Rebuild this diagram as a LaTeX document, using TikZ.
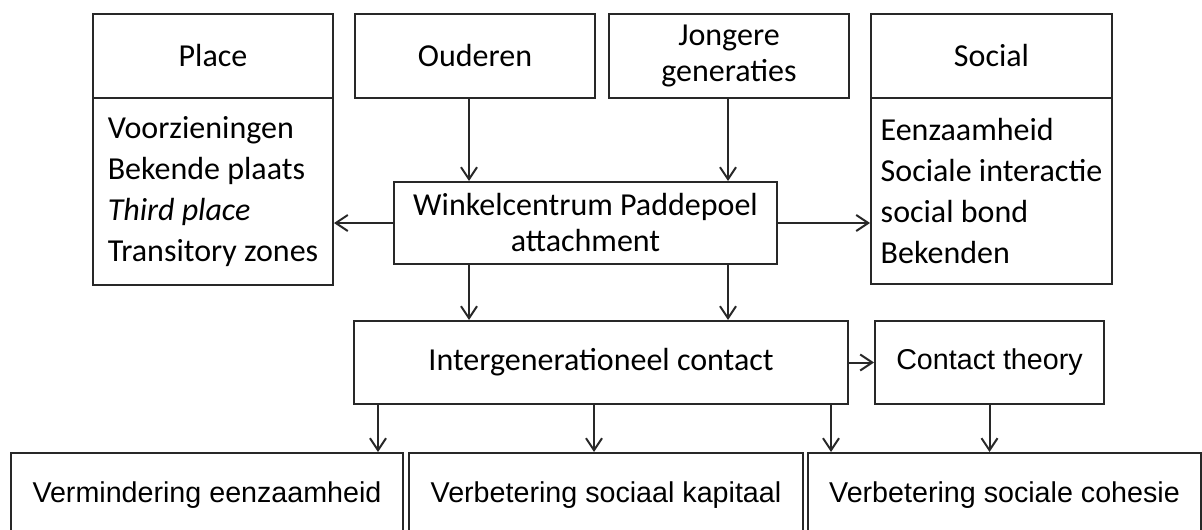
\documentclass[tikz,border=0pt]{standalone}
\usepackage{fontspec}
\setmainfont{Carlito}
\newfontfamily\arialfont{Liberation Sans}
\usetikzlibrary{arrows.meta, calc, positioning}
\definecolor{boxline}{RGB}{40, 40, 40}

\begin{document}
\begin{tikzpicture}[x=0.75pt, y=-0.75pt,
		box/.style={draw=boxline, line width=1.5pt, inner sep=2pt, align=center,
			font=\fontsize{24}{27}\selectfont},
		listbox/.style={box, align=left, font=\fontsize{24}{30.75}\selectfont},
		resbox/.style={box, minimum height=63pt, font=\arialfont\fontsize{21.5}{24}\selectfont},
		arr/.style={-{Straight Barb[length=9pt, width=12pt]}, boxline, line width=1.5pt}]
	
	\clip (0,0) rectangle (1202,529);
	
	%--- columns of the arrows ---
	\coordinate (lcol) at (469,0);
	\coordinate (rcol) at (728,0);
	\coordinate (c1) at (378,0);
	\coordinate (c2) at (594,0);
	\coordinate (c3) at (831,0);
	
	%--- top row ---
	\node[box, anchor=north west, minimum width=180pt, minimum height=63pt] (placehead) at (92,13) {Place};
	\node[listbox, anchor=north west, minimum width=180pt, minimum height=140.25pt] (placebody) at (92,97)
	{Voorzieningen\\Bekende plaats\\\textit{Third place}\\Transitory zones};
	\node[box, anchor=north west, minimum width=180pt, minimum height=63pt] (ouderen) at (354,13) {Ouderen};
	\node[box, anchor=north west, minimum width=180pt, minimum height=63pt] (jongere) at (608,13) {Jongere\\generaties};
	\node[box, anchor=north west, minimum width=180.75pt, minimum height=63pt] (socialhead) at (870,13) {Social};
	\node[listbox, anchor=north west, minimum width=180.75pt, minimum height=139.5pt] (socialbody) at (870,97)
	{Eenzaamheid\\Sociale interactie\\social bond\\Bekenden};
	
	%--- middle ---
	\node[box, minimum width=287.25pt, minimum height=61.5pt] (winkel) at (585.5,223) {Winkelcentrum Paddepoel\\attachment};
	\node[box, minimum width=370.5pt, minimum height=62.25pt] (intergen) at (601,362.5) {Intergenerationeel contact};
	\node[resbox, minimum width=171.75pt, minimum height=62.25pt] (contact) at (989.5,362.5) {Contact theory};
	
	%--- bottom row ---
	\node[resbox, anchor=north west, minimum width=294pt] (verm) at (10,452) {Vermindering eenzaamheid};
	\node[resbox, anchor=north west, minimum width=295.5pt] (verbkap) at (408,452) {Verbetering sociaal kapitaal};
	\node[resbox, anchor=north west, minimum width=294.75pt] (verbcoh) at (807,452) {Verbetering sociale cohesie};
	
	%--- arrows ---
	\draw[arr] (ouderen.south -| lcol) -- (winkel.north -| lcol);
	\draw[arr] (jongere.south -| rcol) -- (winkel.north -| rcol);
	\draw[arr] (winkel.west) -- (winkel.west -| placebody.east);
	\draw[arr] (winkel.east) -- (winkel.east -| socialbody.west);
	\draw[arr] (winkel.south -| lcol) -- (intergen.north -| lcol);
	\draw[arr] (winkel.south -| rcol) -- (intergen.north -| rcol);
	\draw[arr] (intergen.east) -- (contact.west);
	\foreach \c/\t in {c1/verm, c2/verbkap, c3/verbcoh}
	\draw[arr] (intergen.south -| \c) -- (\t.north -| \c);
	\draw[arr] (contact.south) -- (contact.south |- verbcoh.north);
\end{tikzpicture}
\end{document}
